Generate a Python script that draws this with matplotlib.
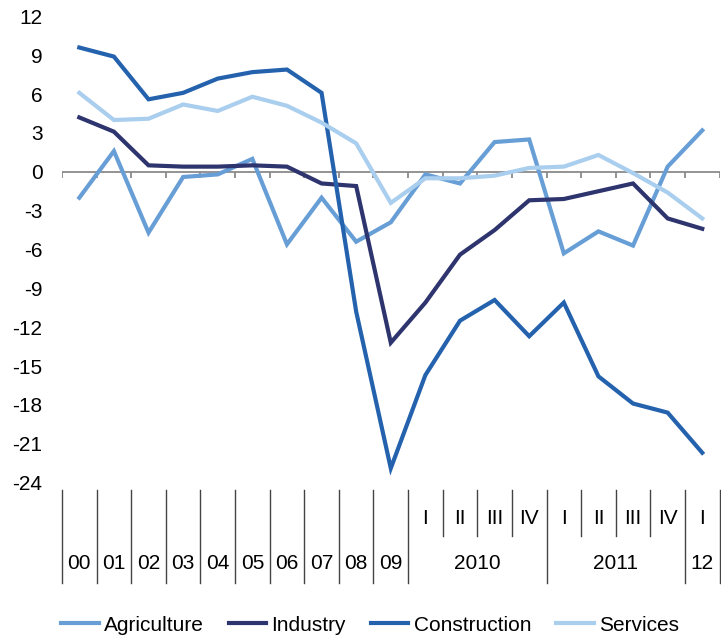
import matplotlib
matplotlib.use("Agg")
import matplotlib.pyplot as plt

plt.rcParams['font.family'] = ['Liberation Sans', 'DejaVu Sans']
plt.rcParams['axes.unicode_minus'] = False

# annual 2000-2009, then quarterly 2010 I .. 2012 I
annual_labels = ["00", "01", "02", "03", "04", "05", "06", "07", "08", "09"]
quarter_labels = ["I", "II", "III", "IV", "I", "II", "III", "IV", "I"]
year_labels = ["2010", "2011", "12"]
year_spans = [(10, 14), (14, 18), (18, 19)]

agriculture = [-2.0, 1.6, -4.7, -0.4, -0.2, 1.0, -5.6, -2.0, -5.4, -3.9,
               -0.2, -0.9, 2.3, 2.5, -6.3, -4.6, -5.7, 0.4, 3.2]
industry = [4.2, 3.1, 0.5, 0.4, 0.4, 0.5, 0.4, -0.9, -1.1, -13.2,
            -10.1, -6.4, -4.5, -2.2, -2.1, -1.5, -0.9, -3.6, -4.4]
construction = [9.6, 8.9, 5.6, 6.1, 7.2, 7.7, 7.9, 6.1, -10.8, -22.9,
                -15.7, -11.5, -9.9, -12.7, -10.1, -15.8, -17.9, -18.6, -21.7]
services = [6.1, 4.0, 4.1, 5.2, 4.7, 5.8, 5.1, 3.8, 2.2, -2.4,
            -0.5, -0.5, -0.3, 0.3, 0.4, 1.3, -0.1, -1.6, -3.6]

series = [("Agriculture", agriculture, "#689ED6"),
          ("Industry", industry, "#2E346E"),
          ("Construction", construction, "#2462AE"),
          ("Services", services, "#AACEEE")]

n = len(agriculture)
x = [i + 0.5 for i in range(n)]

fig = plt.figure(figsize=(7.21, 6.38), dpi=100)
ax = fig.add_axes([0.086, 0.2437, 0.912, 0.7305])

for name, vals, col in series:
    ax.plot(x, vals, color=col, lw=3.0, label=name, solid_joinstyle='miter')

ax.set_xlim(0, n)
ax.set_ylim(-24, 12)
ax.set_yticks(range(-24, 13, 3))
ax.set_xticks([])
ax.tick_params(axis='y', length=0, pad=14, labelsize=15)
for s in ax.spines.values():
    s.set_visible(False)

# zero line with ticks at category boundaries
ax.axhline(0, color='#8a8a8a', lw=1.3, zorder=0)
ax.vlines(range(n + 1), -0.45, 0, color='#8a8a8a', lw=1.3, zorder=0)

# two-level category axis below the plot
tr = ax.get_xaxis_transform()
full = list(range(0, 11)) + [14, 18, 19]
short = [11, 12, 13, 15, 16, 17]
for b in full:
    ax.plot([b, b], [-0.016, -0.216], transform=tr, color='#444444',
            lw=1.0, clip_on=False)
for b in short:
    ax.plot([b, b], [-0.016, -0.115], transform=tr, color='#444444',
            lw=1.0, clip_on=False)

for i, lab in enumerate(annual_labels):
    ax.text(i + 0.5, -0.174, lab, transform=tr, ha='center', va='center',
            fontsize=15)
for j, lab in enumerate(quarter_labels):
    ax.text(10 + j + 0.5, -0.077, lab, transform=tr, ha='center',
            va='center', fontsize=15)
for lab, (a, b) in zip(year_labels, year_spans):
    ax.text((a + b) / 2, -0.174, lab, transform=tr, ha='center',
            va='center', fontsize=15)

fig.legend(loc='center', bbox_to_anchor=(0.513, 0.02), ncol=4,
           frameon=False, fontsize=15, handlelength=1.8,
           handletextpad=0.25, columnspacing=1.2)

fig.savefig("out.png", dpi=100)
